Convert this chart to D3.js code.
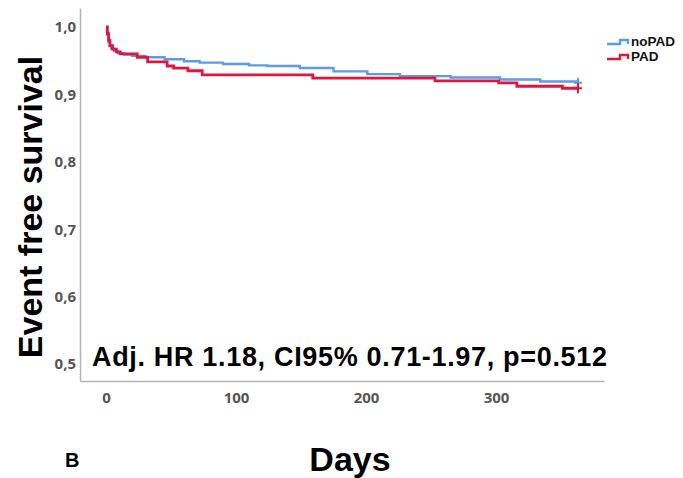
<!DOCTYPE html>
<html>
<head>
<meta charset="utf-8">
<script src="https://cdn.jsdelivr.net/npm/d3@7"></script>
<style>
  body { margin: 0; background: #fff; }
  svg { display: block; font-family: "Liberation Sans", Arial, sans-serif; }
</style>
</head>
<body>
<svg id="chart"></svg>
<script>
// Kaplan-Meier
const noPadDays = [0, 1, 2, 3, 4, 6, 9, 14, 20, 30, 45, 60, 72, 90, 110, 124, 149, 175, 201, 226, 265, 303, 334, 363];
const noPadSurv = [1, 0.988, 0.978, 0.972, 0.968, 0.964, 0.961, 0.959, 0.957, 0.955, 0.952, 0.949, 0.947, 0.945, 0.943, 0.942, 0.939, 0.934, 0.930, 0.927, 0.925, 0.922, 0.919, 0.917];
const padDays = [0, 1, 2, 3, 5, 8, 11, 24, 32, 47, 52, 63, 74, 159, 253, 302, 316, 351, 363];
const padSurv = [1, 0.99, 0.98, 0.972, 0.967, 0.963, 0.96, 0.955, 0.948, 0.942, 0.939, 0.935, 0.929, 0.924, 0.920, 0.917, 0.912, 0.909, 0.909];
const xTicks = [0, 100, 200, 300];
const yTicks = [0.5, 0.6, 0.7, 0.8, 0.9, 1.0];
const seriesNames = ["noPAD", "PAD"];
const seriesColors = ["#5b9be8", "#e0163e"];

const width = 683, height = 478;
const svg = d3.select("#chart").attr("width", width).attr("height", height);

const x = d3.scaleLinear().domain([-20, 383]).range([80, 604]);
const y = d3.scaleLinear().domain([0.475, 1.028]).range([381, 8]);

// axes (no tick marks, gray lines)
const xAxis = d3.axisBottom(x).tickValues(xTicks).tickSize(0).tickPadding(11).tickFormat(d3.format("d"));
const yAxis = d3.axisLeft(y).tickValues(yTicks).tickSize(0).tickPadding(4)
  .tickFormat(d => d.toFixed(1).replace(".", ","));

svg.append("g")
    .attr("transform", `translate(0,${y.range()[0]})`)
    .call(xAxis)
    .call(g => g.select(".domain").attr("stroke", "#b4b4b4").attr("stroke-width", 1.5))
    .call(g => g.selectAll("text").attr("font-family", "Open Sans, sans-serif")
      .attr("font-weight", "bold").attr("font-size", 15).attr("fill", "#555"));

svg.append("g")
    .attr("transform", `translate(${x.range()[0]},0)`)
    .call(yAxis)
    .call(g => g.select(".domain").attr("stroke", "#b4b4b4").attr("stroke-width", 1.5))
    .call(g => g.selectAll("text").attr("font-family", "Open Sans, sans-serif")
      .attr("font-weight", "bold").attr("font-size", 15).attr("fill", "#555"));

const line = d3.line()
    .x(d => x(d[0]))
    .y(d => y(d[1]))
    .curve(d3.curveStepAfter);

const series = [
  d3.zip(noPadDays, noPadSurv),
  d3.zip(padDays, padSurv)
];

series.forEach((pts, i) => {
  svg.append("path")
      .datum(pts)
      .attr("fill", "none")
      .attr("stroke", seriesColors[i])
      .attr("stroke-width", i === 1 ? 2.8 : 2.4)
      .attr("d", line);
  // censor mark at the end
  const last = pts[pts.length - 1];
  const cx = x(last[0]), cy = y(last[1]);
  svg.append("path")
      .attr("stroke", seriesColors[i])
      .attr("stroke-width", 2)
      .attr("d", `M${cx - 4},${cy}H${cx + 4}M${cx},${cy - 5}V${cy + 5}`);
});

// legend
const legend = svg.append("g").attr("transform", "translate(607,0)");
seriesNames.forEach((name, i) => {
  const yy = 44 + i * 15;
  legend.append("path")
      .attr("fill", "none")
      .attr("stroke", seriesColors[i])
      .attr("stroke-width", 2.4)
      .attr("d", `M0,${yy}H13V${yy - 4}H21V${yy}`);
  legend.append("text")
      .attr("x", 24)
      .attr("y", yy + 2)
      .attr("font-weight", "bold")
      .attr("font-size", 13.5)
      .attr("fill", "#111")
      .text(name);
});

// annotation
svg.append("text")
    .attr("x", 92)
    .attr("y", 366)
    .attr("font-weight", "bold")
    .attr("font-size", 27)
    .attr("textLength", 515)
    .attr("fill", "#000")
    .text("Adj. HR 1.18, CI95% 0.71-1.97, p=0.512");

// axis titles
svg.append("text")
    .attr("transform", "translate(42,207) rotate(-90)")
    .attr("text-anchor", "middle")
    .attr("font-weight", "bold")
    .attr("font-size", 34)
    .attr("fill", "#000")
    .text("Event free survival");

svg.append("text")
    .attr("x", 350)
    .attr("y", 471)
    .attr("text-anchor", "middle")
    .attr("font-weight", "bold")
    .attr("font-size", 34)
    .attr("fill", "#000")
    .text("Days");

svg.append("text")
    .attr("x", 65)
    .attr("y", 467)
    .attr("font-weight", "bold")
    .attr("font-size", 20)
    .attr("fill", "#000")
    .text("B");
</script>
</body>
</html>
